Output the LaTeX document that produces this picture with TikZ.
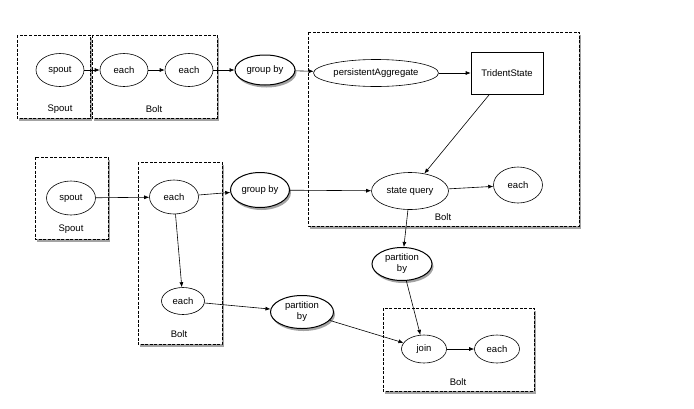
\documentclass[tikz,border=0pt]{standalone}
\usepackage{fontspec}
\setmainfont{Liberation Sans}
\usetikzlibrary{shapes.geometric,arrows.meta,shadows}

\tikzset{
    op/.style={ellipse, draw, line width=0.6pt, fill=white, inner sep=0pt, minimum width=48pt, minimum height=33pt},
    repart/.style={op, line width=1pt, drop shadow={shadow xshift=1.5pt, shadow yshift=-2.5pt, fill=black!60, opacity=0.6}},
    worker/.style={draw, line width=0.6pt, dash pattern=on 3pt off 1.5pt, fill=white, drop shadow={shadow xshift=1.5pt, shadow yshift=-2.5pt, fill=black!60, opacity=0.6}},
    flow/.style={-{Latex[length=5pt,width=4pt]}, line width=0.6pt},
}

\begin{document}
\begin{tikzpicture}[x=1pt, y=-1pt, font={\fontsize{9.5}{11}\selectfont}]
        \useasboundingbox (0,0) rectangle (694,408);
        % spouts and bolts
            \foreach \xa/\ya/\xb/\yb in {17/35/90/118, 92/35/217/118, 308/32/579/226, 35/157/108/239, 138/162/222/344, 383/308/534/391}{
                \draw[worker] (\xa,\ya) rectangle (\xb,\yb);
            }
            \foreach \n/\x/\y/\t in {lsa/60/109/Spout, lba/154/109/Bolt, lbb/443/217/Bolt, lsb/71/229/Spout, lbc/179/334/Bolt, lbd/458/382/Bolt}{
                \node (\n) at (\x,\y) {\t};
            }
        % operations
            \node[op] (spouta) at (60,70) {spout};
            \node[op] (eacha) at (124,70) {each};
            \node[op] (eachb) at (189,70) {each};
            \node[repart, minimum width=60pt, minimum height=30pt] (groupa) at (265,70) {group by};
            \node[op, minimum width=125pt, minimum height=27pt] (persist) at (376,73) {persistentAggregate};
            \node[draw, line width=0.6pt, minimum width=72pt, minimum height=42pt] (state) at (507,73) {TridentState};
            \node[op, minimum width=77pt, minimum height=37pt] (query) at (410,191) {state query};
            \node[op, minimum width=49pt, minimum height=36pt] (eachc) at (518,185) {each};
            \node[op, minimum width=49pt, minimum height=34pt] (spoutb) at (71,198) {spout};
            \node[op, minimum width=49pt, minimum height=34pt] (eachd) at (174,197) {each};
            \node[repart, minimum width=59pt, minimum height=35pt] (groupb) at (260,190) {group by};
            \node[op, minimum width=43pt, minimum height=27pt] (eache) at (183,301) {each};
            \node[repart, minimum width=63pt, minimum height=33pt, align=center] (parta) at (302,312) {partition\\by};
            \node[repart, minimum width=60pt, minimum height=33pt, align=center] (partb) at (402,264) {partition\\by};
            \node[op, minimum width=45pt, minimum height=28pt] (join) at (424,349) {join};
            \node[op, minimum width=45pt, minimum height=28pt] (eachf) at (497,349) {each};
        % streams
            \foreach \a/\b in {spouta/eacha, eacha/eachb, eachb/groupa, groupa/persist, persist/state, state/query, query/eachc, spoutb/eachd, eachd/groupb, groupb/query, eachd/eache, eache/parta, parta/join, query/partb, partb/join, join/eachf}{
                \draw[flow] (\a) -- (\b);
            }
\end{tikzpicture}
\end{document}
